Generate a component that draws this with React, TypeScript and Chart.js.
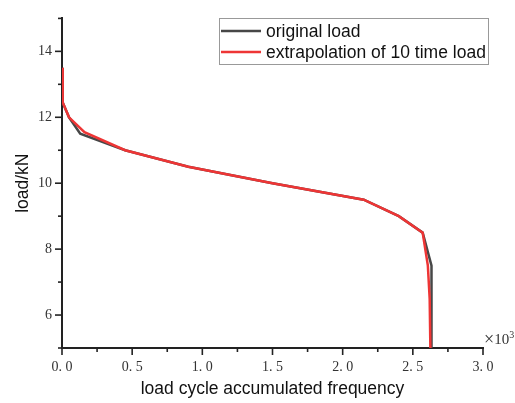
import React, { useEffect, useRef } from "react";
import { Chart, registerables } from "chart.js";

Chart.register(...registerables);

// x values in units of 10^3 cycles, y values in kN
const originalX = [0, 0.005, 0.05, 0.13, 0.45, 0.9, 1.5, 2.15, 2.4, 2.57, 2.633, 2.633];
const originalY = [13.5, 12.45, 12.0, 11.5, 11.0, 10.5, 10.0, 9.5, 9.0, 8.5, 7.5, 5.0];
const extrapX = [0, 0.005, 0.05, 0.16, 0.45, 0.9, 1.5, 2.15, 2.4, 2.57, 2.607, 2.62, 2.625];
const extrapY = [13.5, 12.45, 12.0, 11.55, 11.0, 10.5, 10.0, 9.5, 9.0, 8.5, 7.5, 6.5, 5.0];
const seriesLabels = ["original load", "extrapolation of 10 time load"];
const seriesColors = ["#474747", "#ee3535"];
const xTitle = "load cycle accumulated frequency";
const yTitle = "load/kN";
const xMultiplierSign = "×";
const xMultiplierBase = "10";
const xMultiplierExp = "3";

const SERIF = "'Liberation Serif', 'DejaVu Serif', serif";
const SANS = "'Liberation Sans', Arial, sans-serif";

const fmt = (v: number) => {
  const s = v.toFixed(1);
  return s.replace(".", ". ");
};

const tickPlugin = {
  id: "customTicks",
  afterDraw(chart: any) {
    const ctx = chart.ctx;
    const xs = chart.scales.x;
    const ys = chart.scales.y;
    const area = chart.chartArea;
    ctx.save();
    ctx.strokeStyle = "#222";
    ctx.lineWidth = 1.6;
    xs.ticks.forEach((t: any) => {
      const major = Math.abs(t.value * 2 - Math.round(t.value * 2)) < 1e-6;
      const px = xs.getPixelForValue(t.value);
      ctx.beginPath();
      ctx.moveTo(px, area.bottom);
      ctx.lineTo(px, area.bottom + (major ? 7 : 4));
      ctx.stroke();
    });
    ys.ticks.forEach((t: any) => {
      const major = Math.round(t.value) % 2 === 0;
      const py = ys.getPixelForValue(t.value);
      ctx.beginPath();
      ctx.moveTo(area.left, py);
      ctx.lineTo(area.left - (major ? 7 : 4), py);
      ctx.stroke();
    });
    // multiplier label
    ctx.fillStyle = "#333";
    ctx.textBaseline = "middle";
    ctx.textAlign = "left";
    let mx = area.right + 1;
    const my = area.bottom - 8;
    ctx.font = `18px ${SERIF}`;
    ctx.fillText(xMultiplierSign, mx, my);
    mx += ctx.measureText(xMultiplierSign).width;
    ctx.font = `15px ${SERIF}`;
    ctx.fillText(xMultiplierBase, mx, my);
    mx += ctx.measureText(xMultiplierBase).width;
    ctx.font = `10px ${SERIF}`;
    ctx.fillText(xMultiplierExp, mx, my - 5);

    // legend
    const lx = 219, ly = 18, lw = 269, lh = 46;
    ctx.fillStyle = "#fff";
    ctx.fillRect(lx, ly, lw, lh);
    ctx.strokeStyle = "#999";
    ctx.lineWidth = 1;
    ctx.strokeRect(lx + 0.5, ly + 0.5, lw, lh);
    ctx.font = `17.5px ${SANS}`;
    ctx.textBaseline = "middle";
    chart.data.datasets.forEach((ds: any, i: number) => {
      const y = 31 + i * 21;
      ctx.strokeStyle = ds.borderColor;
      ctx.lineWidth = 2.5;
      ctx.beginPath();
      ctx.moveTo(221, y);
      ctx.lineTo(261, y);
      ctx.stroke();
      ctx.fillStyle = "#111";
      ctx.fillText(ds.label, 266, y + 1);
    });
    ctx.restore();
  },
};

export default function App() {
  const ref = useRef<HTMLCanvasElement>(null);
  useEffect(() => {
    if (!ref.current) return;
    const mk = (xs: number[], ys: number[]) => xs.map((x, i) => ({ x, y: ys[i] }));
    const chart = new Chart(ref.current, {
      type: "line",
      data: {
        datasets: [
          {
            label: seriesLabels[0],
            data: mk(originalX, originalY),
            borderColor: seriesColors[0],
            borderWidth: 2.5,
            pointRadius: 0,
            tension: 0,
            order: 2,
          },
          {
            label: seriesLabels[1],
            data: mk(extrapX, extrapY),
            borderColor: seriesColors[1],
            borderWidth: 2.5,
            pointRadius: 0,
            tension: 0,
            order: 1,
          },
        ],
      },
      options: {
        animation: false,
        responsive: false,
        devicePixelRatio: 1,
        layout: { padding: { top: 9, right: 32, left: 0, bottom: 0 } },
        plugins: { legend: { display: false }, tooltip: { enabled: false } },
        scales: {
          x: {
            type: "linear",
            min: 0,
            max: 3,
            afterFit: (s: any) => {
              s.height = 55;
            },
            border: { display: true, color: "#222", width: 2 },
            grid: { display: false, drawOnChartArea: false, drawTicks: false },
            ticks: {
              stepSize: 0.25,
              autoSkip: false,
              maxRotation: 0,
              padding: 11,
              color: "#333",
              font: { family: SERIF, size: 14 },
              callback: (v: any) => {
                const n = Number(v);
                return Math.abs(n * 2 - Math.round(n * 2)) < 1e-6 ? fmt(n) : "";
              },
            },
            title: {
              display: true,
              text: xTitle,
              color: "#111",
              font: { family: SANS, size: 17.5 },
              padding: { top: 0, bottom: 3.5 },
            },
          },
          y: {
            type: "linear",
            min: 5,
            max: 15,
            afterFit: (s: any) => {
              s.width = 62;
            },
            border: { display: true, color: "#222", width: 2 },
            grid: { display: false, drawOnChartArea: false, drawTicks: false },
            ticks: {
              stepSize: 1,
              autoSkip: false,
              padding: 10,
              color: "#333",
              font: { family: SERIF, size: 14 },
              callback: (v: any) => {
                const n = Math.round(Number(v));
                return n % 2 === 0 ? String(n) : "";
              },
            },
            title: {
              display: true,
              text: yTitle,
              color: "#111",
              font: { family: SANS, size: 17.5 },
              padding: { top: 13, bottom: 0 },
            },
          },
        },
      },
      plugins: [tickPlugin],
    } as any);
    return () => chart.destroy();
  }, []);
  return (
    <div style={{ position: "fixed", left: 0, top: 0, width: 515, height: 403, background: "#fff" }}>
      <canvas ref={ref} width={515} height={403} style={{ display: "block" }} />
    </div>
  );
}
